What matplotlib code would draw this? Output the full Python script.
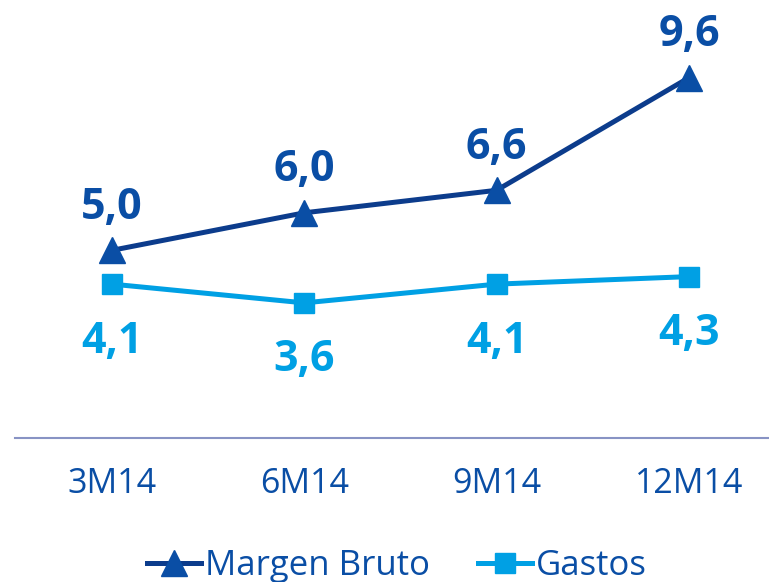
import numpy as np
import matplotlib.pyplot as plt

plt.rcParams['font.family'] = ['Open Sans', 'DejaVu Sans']

periods = ['3M14', '6M14', '9M14', '12M14']
margen_bruto = [5.0, 6.0, 6.6, 9.6]
gastos = [4.1, 3.6, 4.1, 4.3]

navy_line = '#0c3c8c'
navy = '#0a4ea5'
light = '#00a0e4'

fig = plt.figure(figsize=(7.69, 5.82), dpi=100)
ax = fig.add_axes([15 / 769, 144 / 582, 754 / 769, 438 / 582])

x = np.arange(len(periods))
ax.plot(x, margen_bruto, color=navy_line, lw=3.6, marker='^', ms=19,
        mfc=navy, mec=navy, label='Margen Bruto')
ax.plot(x, gastos, color=light, lw=3.6, marker='s', ms=15,
        mfc=light, mec=light, label='Gastos')

for xi, v in zip(x, margen_bruto):
    ax.annotate(f'{v:.1f}'.replace('.', ','), (xi, v), xytext=(0, 31),
                textcoords='offset points', ha='center', va='center',
                fontsize=31, fontweight='bold', color=navy)
for xi, v in zip(x, gastos):
    ax.annotate(f'{v:.1f}'.replace('.', ','), (xi, v), xytext=(0, -41),
                textcoords='offset points', ha='center', va='center',
                fontsize=31, fontweight='bold', color=light)

ax.set_xlim(-0.504, 3.416)
ax.set_ylim(0, 11.67)
ax.set_xticks(x)
ax.set_xticklabels(periods, fontsize=24.5, color=navy)
ax.set_yticks([])
ax.tick_params(axis='x', length=0, pad=21)
for s in ['top', 'right', 'left']:
    ax.spines[s].set_visible(False)
ax.spines['bottom'].set_color('#8893c4')
ax.spines['bottom'].set_linewidth(1.5)

leg = fig.legend(loc='lower center', bbox_to_anchor=(0.516, -0.055), ncol=2,
                 frameon=False, fontsize=25, handlelength=1.55,
                 handletextpad=0.1, columnspacing=1.4)
for t in leg.get_texts():
    t.set_color(navy)

fig.savefig('out.png', dpi=100)
